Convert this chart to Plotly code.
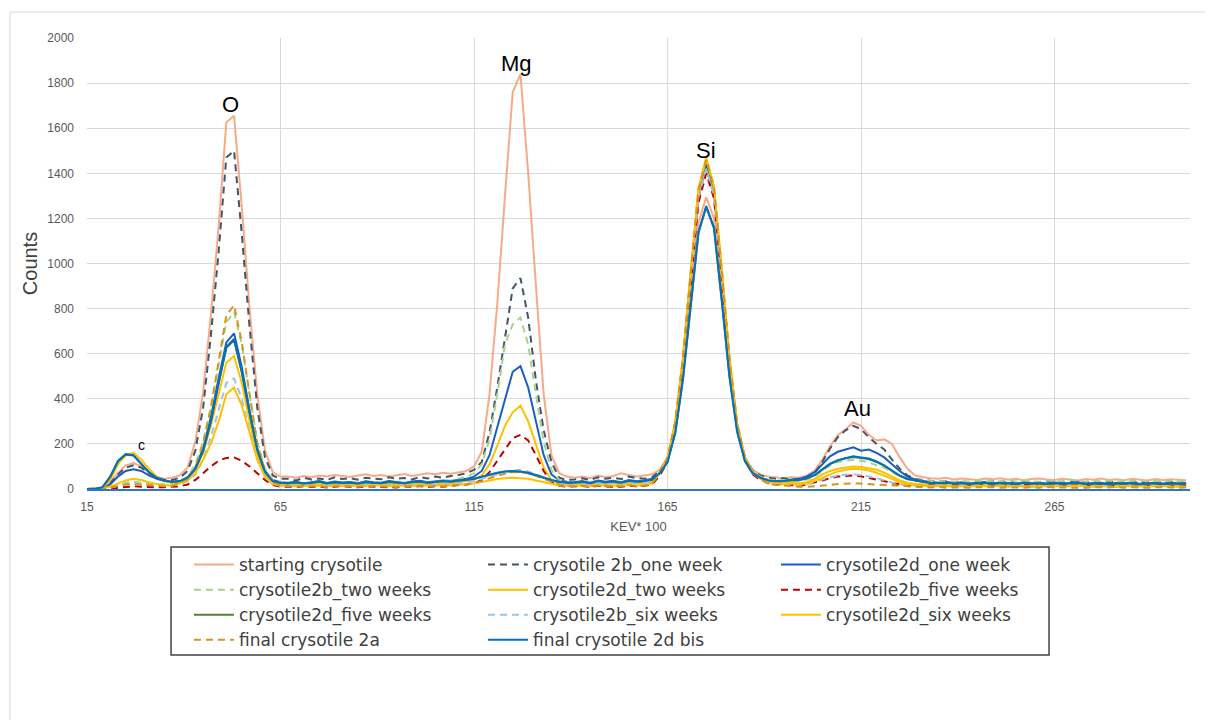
import plotly.graph_objects as go

# channel axis (KEV*100), every second channel
x_start, x_step, n_pts = 15, 2, 143
kev100 = [x_start + x_step * i for i in range(n_pts)]

x_ticks = [15, 65, 115, 165, 215, 265]
y_ticks = [0, 200, 400, 600, 800, 1000, 1200, 1400, 1600, 1800, 2000]

starting_crysotile = [
    0, 0, 5,
    30, 70, 105, 115, 100, 75, 55, 45, 50,
    60, 95, 210, 430, 770, 1160, 1625, 1655, 1250, 800, 420, 170, 75, 55,
    55, 50, 58, 52, 60, 55, 62, 57, 53, 60, 65, 58, 62, 55, 60, 66, 58, 63, 70, 65, 72, 68, 75,
    80, 100, 165, 420, 820, 1300, 1760, 1840, 1400, 900, 420, 150, 70, 55,
    50, 55, 48, 60, 52, 58, 70, 62, 55, 60, 65,
    85, 140, 270, 520, 850, 1180, 1295, 1200, 880, 530, 280, 140, 85, 65,
    55, 50, 48, 52,
    50, 60, 80, 130, 190, 240, 265, 295, 280, 240, 215, 220, 200, 140, 90, 60,
    52, 48, 45, 50, 42, 47, 44, 40, 46, 43, 48, 41, 45, 39, 44, 47, 42, 40, 45, 43, 38, 44, 41, 46, 40,
    43, 39, 45, 42, 38, 44, 40, 43, 41, 39,
]
crysotile2b_one_week = [
    0, 0, 5,
    25, 65, 95, 105, 95, 70, 50, 40, 40,
    50, 80, 170, 360, 680, 1050, 1470, 1500, 1130, 720, 360, 140, 60, 45,
    45, 38, 50, 42, 47, 40, 52, 44, 48, 41, 50, 46, 43, 52, 45, 49, 42, 53, 47, 55, 50, 58, 62,
    70, 85, 120, 250, 450, 680, 890, 935, 760, 480, 260, 120, 50, 40,
    42, 48, 40, 52, 45, 50, 44, 55, 48, 46, 52,
    80, 135, 290, 560, 930, 1290, 1430, 1310, 950, 560, 280, 140, 80, 60,
    50, 45, 48, 42,
    45, 55, 70, 120, 180, 230, 260, 280, 265, 230, 200, 175, 130, 90, 60, 45,
    40, 35, 32, 36, 30, 34, 28, 33, 30, 35, 29, 32, 27, 34, 30, 28, 33, 31, 27, 30, 34, 29, 31, 28, 32,
    30, 27, 33, 29, 31, 28, 30, 32, 27, 30,
]
crysotile2d_one_week = [
    0, 0, 3,
    20, 55, 80, 88, 80, 60, 45, 35, 30,
    35, 50, 95, 180, 320, 490, 650, 690, 540, 350, 180, 80, 40, 30,
    28, 32, 25, 30, 35, 27, 33, 29, 31, 26, 34, 30, 28, 35, 31, 27, 33, 36, 30, 34, 38, 35, 40,
    45, 55, 80, 150, 270, 400, 520, 545, 450, 300, 150, 65, 38, 32,
    30, 35, 28, 38, 32, 36, 30, 40, 34, 38, 45,
    70, 130, 290, 570, 950, 1310, 1440, 1320, 960, 570, 285, 135, 75, 50,
    40, 35, 38, 42,
    45, 55, 75, 110, 145, 165, 175, 185, 170, 175, 160, 140, 110, 80, 55, 42,
    35, 30, 28, 32, 26, 30, 24, 28, 31, 25, 29, 27, 23, 30, 26, 28, 24, 29, 25, 27, 30, 24, 26, 28, 22,
    27, 25, 29, 23, 26, 28, 24, 27, 25, 26,
]
crysotile2b_two_weeks = [
    0, 0, 2,
    8, 18, 28, 32, 28, 22, 20, 22, 28,
    35, 55, 110, 210, 360, 550, 740, 785, 640, 420, 210, 90, 40, 30,
    25, 28, 22, 30, 26, 24, 29, 23, 27, 31, 25, 28, 24, 30, 26, 29, 27, 32, 28, 33, 35, 38, 45,
    55, 70, 110, 220, 420, 640, 730, 760, 640, 420, 210, 85, 40, 30,
    28, 32, 26, 35, 30, 33, 28, 36, 31, 34, 40,
    75, 130, 280, 555, 930, 1290, 1420, 1300, 940, 555, 280, 135, 75, 55,
    42, 38, 40, 36,
    35, 42, 55, 80, 105, 120, 125, 130, 125, 118, 105, 95, 75, 55, 42, 35,
    38, 35, 33, 36, 31, 35, 33, 38, 32, 36, 34, 40, 33, 37, 35, 32, 38, 34, 36, 42, 35, 33, 37, 34, 38,
    32, 36, 35, 39, 33, 36, 34, 37, 33, 35,
]
crysotile2d_two_weeks = [
    0, 0, 5,
    40, 110, 150, 160, 130, 90, 55, 35, 28,
    30, 45, 85, 160, 280, 420, 560, 590, 470, 300, 150, 60, 25, 18,
    18, 22, 16, 20, 24, 18, 21, 15, 23, 19, 17, 22, 20, 25, 18, 21, 19, 24, 22, 20, 26, 24, 30,
    35, 42, 60, 110, 190, 280, 340, 370, 300, 200, 95, 40, 22, 18,
    20, 24, 18, 26, 22, 25, 20, 28, 24, 27, 32,
    75, 135, 295, 580, 965, 1330, 1465, 1340, 975, 580, 290, 140, 75, 50,
    35, 30, 28, 32,
    25, 30, 45, 65, 80, 90, 95, 100, 98, 92, 85, 72, 55, 38, 28, 22,
    20, 18, 15, 17, 14, 16, 13, 18, 15, 14, 17, 12, 16, 15, 13, 17, 14, 16, 12, 15, 18, 13, 14, 16, 12,
    15, 13, 17, 14, 12, 15, 13, 16, 14, 13,
]
crysotile2b_five_weeks = [
    0, 0, 0,
    2, 5, 10, 12, 10, 8, 7, 8, 10,
    12, 20, 40, 70, 100, 125, 138, 140, 125, 100, 70, 40, 18, 10,
    10, 8, 12, 9, 11, 7, 10, 13, 9, 8, 11, 10, 12, 9, 7, 11, 10, 13, 9, 12, 10, 14, 16,
    20, 25, 40, 75, 125, 180, 225, 240, 215, 150, 80, 30, 14, 10,
    10, 13, 9, 14, 11, 12, 10, 15, 12, 14, 20,
    60, 120, 270, 545, 910, 1270, 1400, 1290, 930, 545, 270, 130, 65, 40,
    28, 22, 20, 18,
    15, 20, 28, 38, 48, 55, 58, 60, 56, 50, 42, 35, 26, 20, 16, 14,
    15, 17, 14, 16, 18, 15, 13, 17, 16, 19, 14, 17, 15, 18, 22, 16, 14, 17, 20, 15, 18, 16, 14, 19, 17,
    15, 18, 16, 14, 17, 15, 18, 16, 14, 17,
]
crysotile2d_five_weeks = [
    0, 0, 7,
    53, 122, 152, 148, 108, 73, 49, 37, 31,
    34, 49, 88, 168, 297, 466, 626, 660, 516, 337, 172, 73, 34, 27,
    25, 29, 23, 27, 32, 24, 29, 26, 28, 23, 30, 27, 25, 31, 28, 24, 30, 32, 27, 30, 34, 32, 37,
    39, 44, 54, 63, 70, 76, 78, 76, 70, 60, 48, 39, 31, 27,
    27, 31, 25, 34, 29, 32, 27, 36, 31, 34, 41,
    69, 119, 248, 487, 816, 1136, 1250, 1156, 836, 497, 252, 123, 69, 49,
    37, 33, 35, 39,
    39, 47, 61, 86, 110, 126, 136, 142, 138, 133, 120, 103, 80, 58, 44, 37,
    31, 27, 25, 28, 23, 26, 21, 25, 27, 22, 26, 24, 20, 27, 23, 25, 21, 26, 22, 24, 27, 21, 23, 25, 19,
    24, 22, 26, 20, 23, 25, 21, 24, 22, 23,
]
crysotile2b_six_weeks = [
    0, 0, 2,
    6, 15, 22, 25, 22, 18, 15, 14, 15,
    22, 35, 65, 130, 230, 350, 470, 490, 400, 260, 130, 55, 22, 15,
    15, 18, 14, 20, 16, 19, 15, 21, 17, 14, 19, 16, 20, 18, 15, 22, 17, 19, 21, 18, 24, 22, 26,
    28, 35, 45, 55, 65, 75, 82, 85, 78, 65, 50, 38, 28, 22,
    22, 25, 20, 28, 24, 26, 22, 30, 26, 28, 35,
    70, 130, 285, 560, 935, 1295, 1420, 1300, 940, 560, 280, 135, 72, 48,
    30, 26, 24, 22,
    18, 22, 30, 42, 52, 60, 63, 65, 62, 56, 48, 38, 28, 20, 16, 14,
    14, 12, 15, 13, 11, 14, 12, 16, 13, 11, 15, 12, 14, 13, 10, 15, 12, 14, 11, 13, 16, 12, 11, 14, 13,
    10, 15, 12, 13, 11, 14, 12, 13, 11, 12,
]
crysotile2d_six_weeks = [
    0, 0, 3,
    10, 25, 38, 45, 40, 30, 22, 18, 16,
    25, 38, 70, 130, 200, 300, 420, 450, 370, 250, 130, 55, 22, 14,
    14, 12, 16, 13, 15, 11, 17, 14, 12, 16, 13, 15, 18, 12, 14, 16, 13, 17, 15, 14, 19, 16, 20,
    20, 25, 32, 38, 44, 48, 50, 48, 45, 38, 30, 22, 16, 14,
    14, 17, 12, 18, 15, 16, 13, 19, 16, 18, 24,
    72, 135, 295, 585, 970, 1335, 1470, 1345, 980, 585, 290, 140, 72, 45,
    30, 25, 22, 24,
    20, 25, 35, 50, 65, 78, 85, 90, 88, 82, 72, 60, 45, 30, 22, 18,
    16, 14, 12, 15, 11, 13, 10, 14, 12, 11, 15, 10, 13, 12, 9, 14, 11, 13, 10, 12, 15, 11, 10, 13, 12,
    9, 14, 11, 12, 10, 13, 11, 12, 10, 11,
]
final_crysotile_2a = [
    0, 0, 2,
    6, 14, 20, 22, 20, 16, 13, 12, 14,
    28, 45, 95, 200, 360, 560, 770, 815, 650, 420, 200, 80, 30, 15,
    12, 10, 14, 11, 13, 9, 12, 15, 11, 10, 13, 12, 14, 11, 9, 13, 12, 15, 11, 14, 12, 16, 18,
    20, 26, 35, 48, 58, 68, 74, 75, 70, 58, 45, 32, 20, 14,
    12, 15, 11, 16, 13, 14, 12, 17, 14, 16, 24,
    75, 140, 300, 585, 965, 1325, 1460, 1335, 970, 580, 290, 140, 72, 45,
    22, 18, 15, 12,
    10, 10, 12, 15, 18, 22, 24, 25, 24, 22, 20, 17, 14, 11, 9, 8,
    8, 7, 9, 6, 8, 7, 5, 8, 7, 9, 6, 8, 7, 5, 8, 6, 9, 7, 6, 8, 7, 5, 8, 6, 7,
    9, 6, 8, 7, 5, 8, 6, 7, 6, 7,
]
final_crysotile_2d_bis = [
    0, 0, 8,
    55, 125, 155, 150, 110, 75, 50, 38, 32,
    35, 50, 90, 170, 300, 470, 630, 665, 520, 340, 175, 75, 35, 28,
    26, 30, 24, 28, 33, 25, 30, 27, 29, 24, 31, 28, 26, 32, 29, 25, 31, 33, 28, 31, 35, 33, 38,
    40, 45, 55, 65, 72, 78, 80, 78, 72, 62, 50, 40, 32, 28,
    28, 32, 26, 35, 30, 33, 28, 37, 32, 35, 42,
    70, 120, 250, 490, 820, 1140, 1255, 1160, 840, 500, 255, 125, 70, 50,
    38, 34, 36, 40,
    40, 48, 62, 88, 112, 128, 138, 145, 140, 135, 122, 105, 82, 60, 45, 38,
    32, 28, 26, 29, 24, 27, 22, 26, 28, 23, 27, 25, 21, 28, 24, 26, 22, 27, 23, 25, 28, 22, 24, 26, 20,
    25, 23, 27, 21, 24, 26, 22, 25, 23, 24,
]

series = [
    ("starting crysotile", starting_crysotile, "#F7AA87", "solid"),
    ("crysotile 2b_one week", crysotile2b_one_week, "#44546A", "7px,5px"),
    ("crysotile2d_one week", crysotile2d_one_week, "#1A5FBF", "solid"),
    ("crysotile2b_two weeks", crysotile2b_two_weeks, "#A9D18E", "7px,5px"),
    ("crysotile2d_two weeks", crysotile2d_two_weeks, "#FFC000", "solid"),
    ("crysotile2b_five weeks", crysotile2b_five_weeks, "#C00000", "7px,5px"),
    ("crysotile2d_five weeks", crysotile2d_five_weeks, "#548235", "solid"),
    ("crysotile2b_six weeks", crysotile2b_six_weeks, "#9DC3E6", "7px,5px"),
    ("crysotile2d_six weeks", crysotile2d_six_weeks, "#FFC000", "solid"),
    ("final crysotile 2a", final_crysotile_2a, "#D4961C", "7px,5px"),
    ("final crysotile 2d bis", final_crysotile_2d_bis, "#0070C0", "solid"),
]

peak_labels = ["c", "O", "Mg", "Si", "Au"]
peak_x = [29, 52, 126, 175, 214]
peak_y = [195, 1707, 1885, 1503, 359]
peak_size = [14, 22, 22, 22, 22]

legend_ids = ["legend", "legend2", "legend3"]

fig = go.Figure()
for k, (name, vals, color, dash) in enumerate(series):
    fig.add_trace(go.Scatter(
        x=kev100, y=vals, name=name, mode="lines",
        line=dict(color=color, width=2, dash=dash),
        legend=legend_ids[k % 3],
    ))

for lab, px, py, sz in zip(peak_labels, peak_x, peak_y, peak_size):
    fig.add_annotation(x=px, y=py, text=lab, showarrow=False,
                       font=dict(size=sz, color="#000000", family="Liberation Sans"))

GRID = "#D9D9D9"
LEG_FONT = dict(size=17, color="#404040", family="DejaVu Sans")
leg_common = dict(orientation="v", yanchor="top", xanchor="left", y=-0.1286,
                  bgcolor="rgba(0,0,0,0)", borderwidth=0, itemwidth=40,
                  font=LEG_FONT, tracegroupgap=0)

fig.update_layout(
    width=1205, height=712,
    margin=dict(l=79, r=23, t=30, b=231),
    paper_bgcolor="white", plot_bgcolor="white",
    font=dict(family="Liberation Sans", color="#595959"),
    showlegend=True,
    legend=dict(x=0.0924, **leg_common),
    legend2=dict(x=0.3590, **leg_common),
    legend3=dict(x=0.6246, **leg_common),
    xaxis=dict(
        range=[15, 300], tickvals=x_ticks, showgrid=True, gridcolor=GRID, gridwidth=1,
        zeroline=False, showline=True, linecolor="#2E75C6", linewidth=2,
        tickfont=dict(size=12, color="#595959"), ticklabelstandoff=6,
        title=dict(text="KEV* 100", font=dict(size=13, color="#595959"), standoff=8),
    ),
    yaxis=dict(
        range=[0, 2000], tickvals=y_ticks, showgrid=True, gridcolor=GRID, gridwidth=1,
        zeroline=False, showline=False,
        tickfont=dict(size=12, color="#595959"), ticklabelstandoff=12,
        title=dict(text="Counts", font=dict(size=20, color="#404040"), standoff=4),
    ),
)

# legend frame
fig.add_shape(type="rect", xref="paper", yref="paper",
              x0=0.0762, x1=0.8722, y0=-0.3681, y1=-0.1286,
              line=dict(color="#404040", width=1.5), fillcolor="rgba(0,0,0,0)")
# outer chart-area border
fig.add_shape(type="rect", xref="paper", yref="paper",
              x0=-0.0698, x1=1.05, y0=-0.6, y1=1.0576,
              line=dict(color="#D9D9D9", width=1), fillcolor="rgba(0,0,0,0)", layer="below")

fig.write_html("out.html")
